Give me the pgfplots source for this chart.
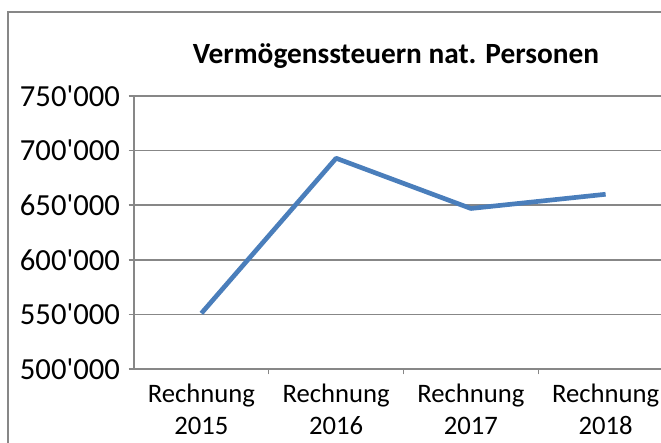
\documentclass[border=0pt]{standalone}
\usepackage{pgfplots}
\pgfplotsset{compat=1.18}
\usepackage{fontspec}
\setmainfont{Carlito}
\definecolor{gridgray}{HTML}{878787}
\definecolor{lineblue}{HTML}{4A7EBB}
\begin{document}
\begin{tikzpicture}
\useasboundingbox (0,0) rectangle (495.75pt,332.25pt);
\clip (0,0) rectangle (495.75pt,332.25pt);
\draw[gridgray, line width=1.1pt] (6pt,323.25pt) rectangle (560pt,-20pt);
\node[font=\fontsize{22}{26}\selectfont\bfseries] at (297pt,290pt) {Vermögenssteuern nat. Personen};
\begin{axis}[
  at={(100.5pt,55.5pt)}, anchor=south west,
  scale only axis, width=404.25pt, height=204.75pt,
  xmin=0.5, xmax=4.5, ymin=500000, ymax=750000,
  ytick={500000,550000,600000,650000,700000,750000},
  xtick={1,2,3,4},
  xticklabels={Rechnung\\2015,Rechnung\\2016,Rechnung\\2017,Rechnung\\2018},
  minor xtick={1.5,2.5,3.5,4.5},
  major x tick style={draw=none},
  minor x tick style={draw=gridgray, line width=1.1pt},
  y tick style={draw=gridgray, line width=1.1pt},
  tick align=outside, major tick length=4pt, minor tick length=4pt,
  axis x line*=bottom, axis y line*=left,
  axis line style={draw=gridgray, line width=1.1pt, -},
  ymajorgrids, grid style={draw=gridgray, line width=1.2pt},
  scaled y ticks=false,
  /pgf/number format/fixed, /pgf/number format/precision=0,
  /pgf/number format/1000 sep={\textquotesingle},
  /pgf/number format/assume math mode=true,
  xticklabel style={font=\fontsize{20}{24}\selectfont, align=center, yshift=-4pt},
  yticklabel style={font=\fontsize{23}{26}\selectfont, xshift=-3pt},
  clip=false,
]
\addplot[lineblue, line width=3.5pt, line join=round] coordinates {(1,551000) (2,693000) (3,647000) (4,660000)};
\end{axis}
\end{tikzpicture}
\end{document}
